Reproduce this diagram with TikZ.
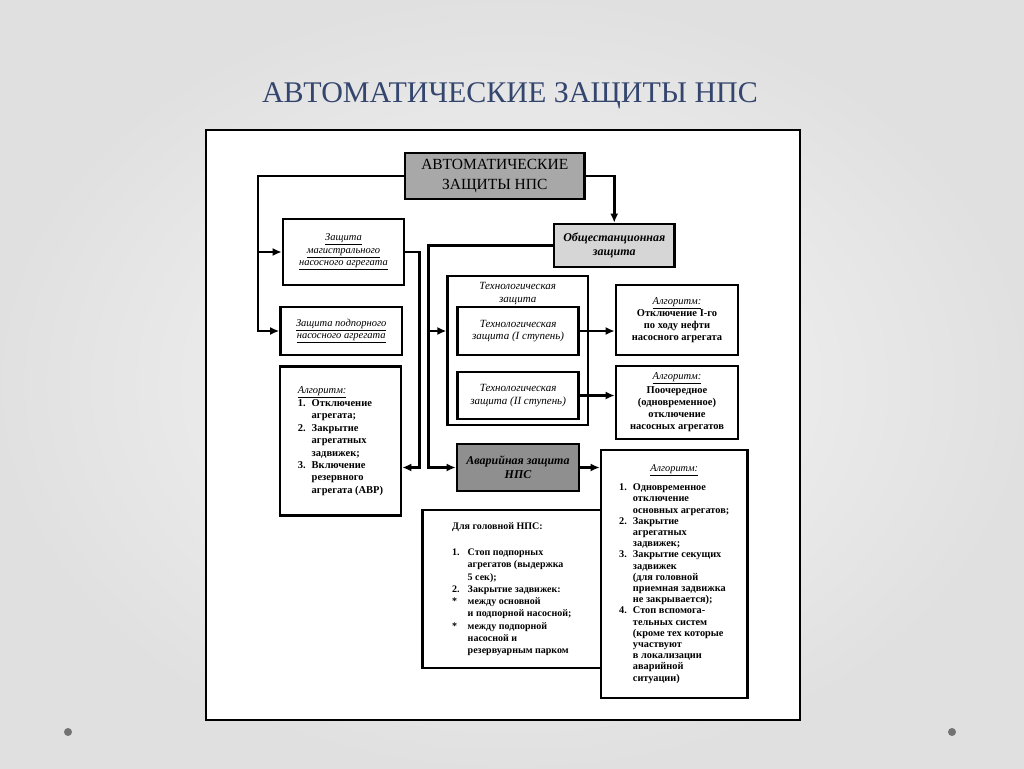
\documentclass[tikz,border=0pt]{standalone}
\usepackage{fontspec}
\setmainfont{Liberation Serif}
\usetikzlibrary{arrows.meta}
\definecolor{cTitle}{HTML}{34456E}
\definecolor{cTop}{HTML}{A8A8A8}
\definecolor{cStation}{HTML}{D6D6D6}
\definecolor{cEmerg}{HTML}{8F8F8F}
\definecolor{cDot}{HTML}{737373}
\newcommand{\algo}{\underline{\textnormal{\itshape Алгоритм:}}}
\newcommand{\uli}[1]{\underline{#1}}
\tikzset{
  box/.style={draw=black, line width=2.6pt, fill=white, align=center, inner sep=1pt},
  topbox/.style={box, fill=cTop, font=\fontsize{15.5}{19.2}\selectfont},
  stationbox/.style={box, fill=cStation, font=\fontsize{12}{14.5}\selectfont\bfseries\itshape},
  emergbox/.style={box, fill=cEmerg, font=\fontsize{12}{14}\selectfont\bfseries\itshape},
  unitbox/.style={box, font=\fontsize{10.5}{12.6}\selectfont\itshape},
  techbox/.style={box, font=\fontsize{11}{12.4}\selectfont\itshape},
  listbox/.style={box, font=\fontsize{10.5}{11.8}\selectfont\bfseries},
  flow/.style={-{Latex[length=9pt, width=8pt]}, line width=2.5pt, draw=black},
}

\begin{document}
\begin{tikzpicture}[x=1pt, y=-1pt]
  \useasboundingbox (0,0) rectangle (1024,768);
  \shade[inner color=white!97!black, outer color=black!12] (0,0) rectangle (1024,768);
  \fill[cDot] (68,732) circle (4);
  \fill[cDot] (952,732) circle (4);

  % slide title
  \node[text=cTitle, font=\fontsize{30}{34}\selectfont] (title) at (510,96)
    {АВТОМАТИЧЕСКИЕ ЗАЩИТЫ НПС};

  % scanned sheet
  \node[draw=black, line width=2.2pt, fill=white, minimum width=594pt, minimum height=590pt,
    inner sep=0pt] (sheet) at (503,425) {};

  % ----------------------------------------------------------------
  % top and station level
  % ----------------------------------------------------------------
  \node[topbox, minimum width=179.5pt, minimum height=46pt] (top) at (494.75,176)
    {АВТОМАТИЧЕСКИЕ\\ ЗАЩИТЫ НПС};
  \node[stationbox, minimum width=120.5pt, minimum height=43pt] (obsh) at (614.25,245.5)
    {Общестанционная\\ защита};

  % ----------------------------------------------------------------
  % unit protections (left column)
  % ----------------------------------------------------------------
  \node[unitbox, minimum width=121pt, minimum height=66pt] (mag) at (343.5,252)
    {\uli{Защита}\\ \uli{магистрального}\\ \uli{насосного агрегата}};
  \node[unitbox, minimum width=121.5pt, minimum height=48pt] (podp) at (341.25,331)
    {\uli{Защита подпорного}\\ \uli{насосного агрегата}};
  \node[box, font=\fontsize{10.5}{12.4}\selectfont\bfseries, minimum width=121pt,
    minimum height=149pt] (algL) at (340.5,441)
    {\begin{tabular}{@{}l@{\hspace{6pt}}l@{}}
      \multicolumn{2}{@{}l@{}}{\algo}\\
      1. & Отключение\\
         & агрегата;\\
      2. & Закрытие\\
         & агрегатных\\
         & задвижек;\\
      3. & Включение\\
         & резервного\\
         & агрегата (АВР)
    \end{tabular}};

  % ----------------------------------------------------------------
  % technological protection (middle column)
  % ----------------------------------------------------------------
  \node[draw=black, line width=2.2pt, fill=white, minimum width=140.5pt, minimum height=149pt,
    inner sep=0pt] (techOuter) at (517.75,350.5) {};
  \node[font=\fontsize{11}{13}\selectfont\itshape, align=center, anchor=north]
    (techTitle) at ([yshift=-4pt]techOuter.north) {Технологическая\\ защита};
  \node[techbox, minimum width=121.2pt, minimum height=48pt] (techI) at (518.1,331)
    {Технологическая\\ защита (I ступень)};
  \node[techbox, minimum width=121.2pt, minimum height=47pt] (techII) at (518.1,395.5)
    {Технологическая\\ защита (II ступень)};
  \node[emergbox, minimum width=122pt, minimum height=47pt] (avar) at (518,467.5)
    {Аварийная защита\\ НПС};

  % ----------------------------------------------------------------
  % algorithms (right column)
  % ----------------------------------------------------------------
  \node[listbox, minimum width=122pt, minimum height=70pt] (algI) at (677,320)
    {\algo\\ Отключение I-го\\ по ходу нефти\\ насосного агрегата};
  \node[listbox, font=\fontsize{10.5}{12.2}\selectfont\bfseries, minimum width=122pt,
    minimum height=73pt] (algII) at (677,402.5)
    {\algo\\[1pt] Поочередное\\ (одновременное)\\ отключение\\ насосных агрегатов};

  \node[box, font=\fontsize{10}{12.25}\selectfont\bfseries, minimum width=178.4pt,
    minimum height=158pt] (head) at (511.8,589)
    {\begin{tabular}{@{}l@{\hspace{8pt}}l@{}}
      \multicolumn{2}{@{}l@{}}{Для головной НПС:}\\[14pt]
      1.  & Стоп подпорных\\
          & агрегатов (выдержка\\
          & 5 сек);\\
      2.  & Закрытие задвижек:\\
      {*} & между основной\\
          & и подпорной насосной;\\
      {*} & между подпорной\\
          & насосной и\\
          & резервуарным парком
    \end{tabular}};
  \node[box, font=\fontsize{10.3}{11.2}\selectfont\bfseries, minimum width=146.5pt,
    minimum height=248pt] (algR) at (674.25,574)
    {\begin{tabular}{@{}l@{\hspace{6pt}}l@{}}
      \multicolumn{2}{c}{\algo}\\[8pt]
      1. & Одновременное\\
         & отключение\\
         & основных агрегатов;\\
      2. & Закрытие\\
         & агрегатных\\
         & задвижек;\\
      3. & Закрытие секущих\\
         & задвижек\\
         & (для головной\\
         & приемная задвижка\\
         & не закрывается);\\
      4. & Стоп вспомога-\\
         & тельных систем\\
         & (кроме тех которые\\
         & участвуют\\
         & в локализации\\
         & аварийной\\
         & ситуации)
    \end{tabular}};

  % ----------------------------------------------------------------
  % connectors
  % ----------------------------------------------------------------
  \coordinate (busL) at (258,176);
  \coordinate (busM) at (428.5,245.5);
  \coordinate (busR) at (419.5,252);

  \draw[flow] (top.west) -- (busL) |- (podp.west);
  \draw[flow] (busL |- mag.west) -- (mag.west);
  \draw[flow] (top.east) -| (obsh.north);

  \draw[flow] (obsh.west) -- (busM) |- (avar.west);
  \draw[flow] (busM |- techI.west) -- (techOuter.west |- techI.west);

  \draw[flow] (mag.east) -- (busR) |- (algL.east |- avar.west);

  \draw[flow] (techI.east) -- (algI.west |- techI.east);
  \draw[flow] (techII.east) -- (algII.west |- techII.east);
  \draw[flow] (avar.east) -- (algR.west |- avar.east);

\end{tikzpicture}
\end{document}
